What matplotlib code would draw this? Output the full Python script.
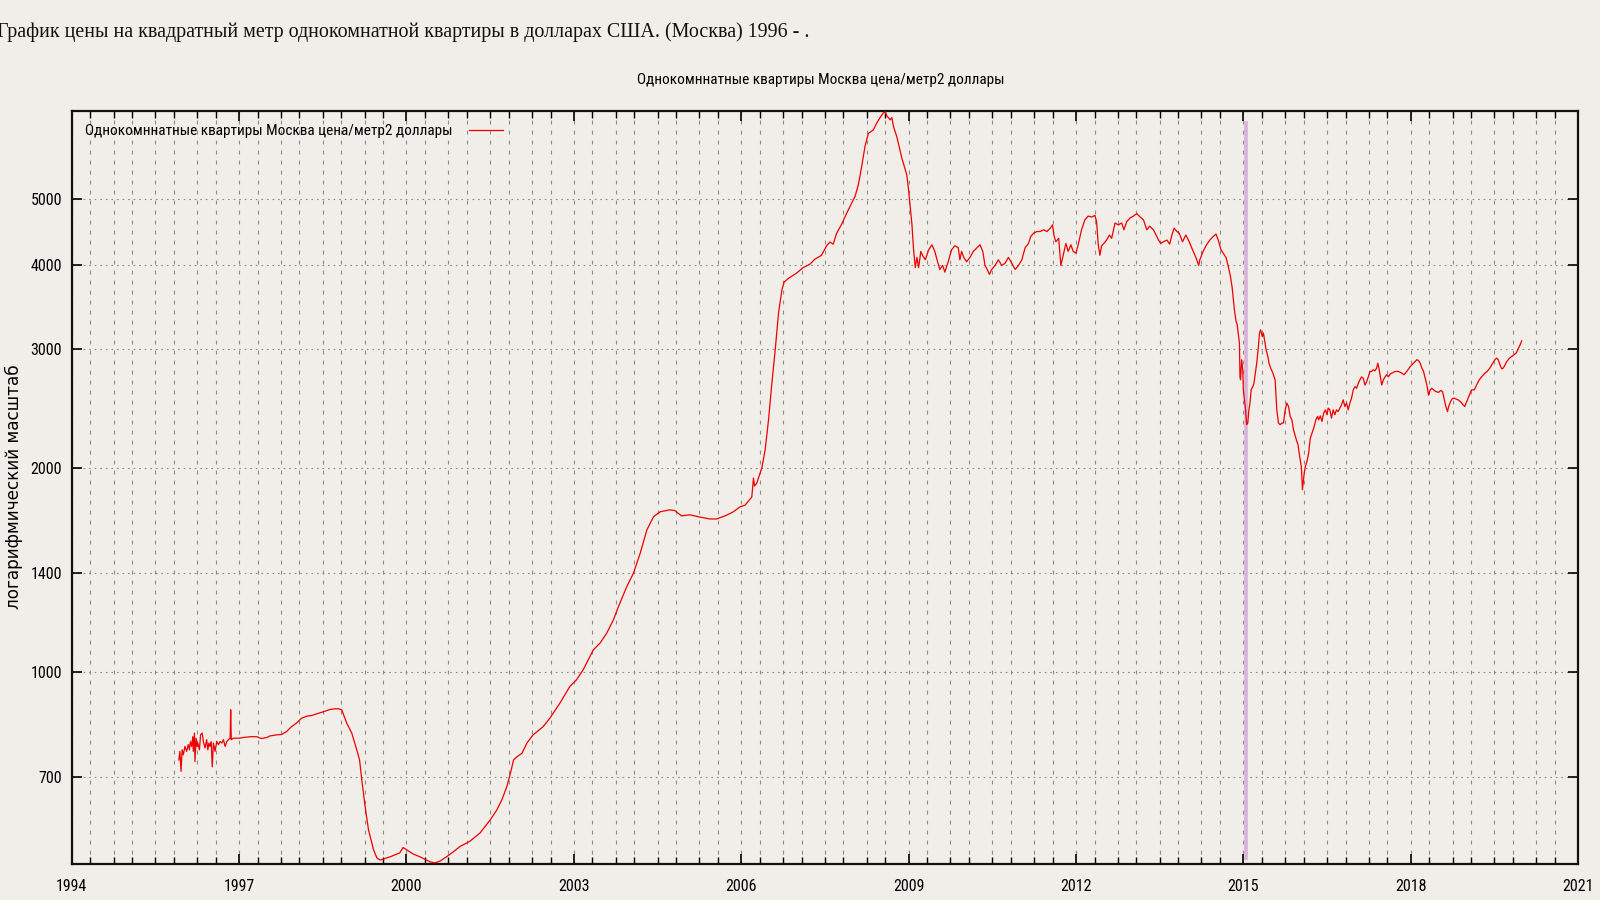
import numpy as np
import matplotlib.pyplot as plt
from matplotlib.ticker import FixedLocator, NullLocator

# price per m2 of a one-room flat in Moscow, USD
years_96_99 = [1995.92, 1995.94, 1995.96, 1995.98, 1996.00, 1996.03, 1996.06, 1996.09,
               1996.11, 1996.13, 1996.15, 1996.17, 1996.18, 1996.20, 1996.21, 1996.23,
               1996.25, 1996.26, 1996.29, 1996.31, 1996.34, 1996.36, 1996.39, 1996.42,
               1996.44, 1996.46, 1996.48, 1996.50, 1996.52, 1996.54, 1996.57, 1996.60,
               1996.63, 1996.66, 1996.69, 1996.72, 1996.75, 1996.78, 1996.81, 1996.84,
               1996.85, 1996.86, 1996.90, 1997.00, 1997.08, 1997.20, 1997.32, 1997.40,
               1997.50, 1997.55, 1997.67, 1997.76, 1997.85, 1997.94, 1998.03, 1998.12,
               1998.21, 1998.30, 1998.39, 1998.51, 1998.63, 1998.72, 1998.78, 1998.84,
               1998.93, 1999.02, 1999.11, 1999.16, 1999.20, 1999.26, 1999.32, 1999.41,
               1999.47, 1999.53]
price_96_99 = [741, 763, 713, 767, 754, 776, 763, 781,
               767, 789, 776, 802, 763, 812, 737, 798,
               776, 785, 767, 807, 812, 789, 772, 794,
               767, 785, 776, 789, 724, 785, 763, 789,
               781, 789, 785, 794, 776, 789, 794, 798,
               879, 794, 798, 798, 800, 802, 802, 797,
               800, 804, 807, 808, 816, 830, 840, 854,
               860, 862, 867, 873, 880, 882, 882, 879,
               840, 812, 767, 741, 692, 632, 584, 546,
               531, 527]

years_99_06 = [1999.71, 1999.88, 1999.94, 2000.00, 2000.12, 2000.24, 2000.42, 2000.51,
               2000.60, 2000.72, 2000.84, 2000.96, 2001.14, 2001.32, 2001.50, 2001.62,
               2001.71, 2001.80, 2001.86, 2001.92, 2001.98, 2002.07, 2002.16, 2002.27,
               2002.45, 2002.57, 2002.75, 2002.93, 2003.05, 2003.17, 2003.35, 2003.47,
               2003.59, 2003.71, 2003.80, 2003.95, 2004.07, 2004.19, 2004.31, 2004.43,
               2004.55, 2004.72, 2004.81, 2004.93, 2005.08, 2005.26, 2005.44, 2005.56,
               2005.74, 2005.86, 2005.98, 2006.07, 2006.19]
price_99_06 = [533, 540, 550, 546, 538, 533, 524, 522,
               525, 533, 542, 552, 562, 578, 604, 625,
               647, 677, 706, 741, 749, 758, 785, 807,
               830, 854, 899, 952, 974, 1008, 1078, 1103,
               1141, 1194, 1249, 1337, 1400, 1498, 1622, 1697,
               1725, 1736, 1732, 1701, 1707, 1694, 1683, 1683,
               1705, 1725, 1754, 1764, 1814]

years_06_09 = [2006.22, 2006.24, 2006.28, 2006.37, 2006.43, 2006.49, 2006.55, 2006.61,
               2006.67, 2006.73, 2006.77, 2006.85, 2006.99, 2007.11, 2007.23, 2007.32,
               2007.44, 2007.53, 2007.59, 2007.65, 2007.71, 2007.80, 2007.89, 2007.98,
               2008.04, 2008.10, 2008.16, 2008.22, 2008.28, 2008.37, 2008.43, 2008.49,
               2008.55, 2008.58, 2008.61, 2008.67, 2008.70, 2008.73, 2008.79, 2008.88,
               2008.97, 2009.00, 2009.03, 2009.06, 2009.09, 2009.12, 2009.15, 2009.18]
price_06_09 = [1934, 1883, 1902, 2003, 2130, 2359, 2672, 2996,
               3398, 3672, 3770, 3820, 3885, 3960, 4005, 4075,
               4130, 4265, 4320, 4290, 4450, 4590, 4765, 4930,
               5045, 5250, 5590, 5990, 6255, 6330, 6480, 6600,
               6710, 6730, 6640, 6550, 6600, 6400, 6180, 5750,
               5420, 5160, 4875, 4590, 4207, 3960, 4100, 3960]

years_09_14 = [2009.22, 2009.25, 2009.30, 2009.36, 2009.42, 2009.47, 2009.52, 2009.56,
               2009.61, 2009.65, 2009.71, 2009.77, 2009.83, 2009.89, 2009.92, 2009.95,
               2009.99, 2010.04, 2010.10, 2010.16, 2010.23, 2010.28, 2010.33, 2010.37,
               2010.41, 2010.45, 2010.49, 2010.55, 2010.61, 2010.67, 2010.73, 2010.79,
               2010.85, 2010.91, 2010.97, 2011.03, 2011.09, 2011.15, 2011.19, 2011.24,
               2011.30, 2011.36, 2011.42, 2011.48, 2011.54, 2011.58, 2011.61, 2011.64,
               2011.69, 2011.73, 2011.78, 2011.82, 2011.86, 2011.91, 2011.95, 2012.00,
               2012.04, 2012.10, 2012.16, 2012.22, 2012.28, 2012.34, 2012.37, 2012.40,
               2012.43, 2012.46, 2012.50, 2012.55, 2012.60, 2012.64, 2012.70, 2012.76,
               2012.82, 2012.86, 2012.91, 2012.97, 2013.03, 2013.09, 2013.15, 2013.21,
               2013.27, 2013.32, 2013.39, 2013.48, 2013.52, 2013.57, 2013.63, 2013.68,
               2013.72, 2013.76, 2013.81, 2013.85, 2013.91, 2013.97, 2014.03, 2014.09,
               2014.15, 2014.20, 2014.22, 2014.28, 2014.34, 2014.40, 2014.46, 2014.51,
               2014.55, 2014.60, 2014.64, 2014.69, 2014.73, 2014.77, 2014.80]
price_09_14 = [4185, 4130, 4067, 4207, 4280, 4185, 4040, 3935,
               3990, 3900, 4040, 4207, 4265, 4240, 4067, 4185,
               4100, 4040, 4100, 4185, 4240, 4280, 4185, 3990,
               3935, 3870, 3935, 3990, 4067, 3990, 4020, 4100,
               4020, 3935, 3990, 4067, 4240, 4300, 4402, 4453,
               4478, 4478, 4504, 4478, 4530, 4580, 4402, 4325,
               4375, 3990, 4160, 4300, 4185, 4280, 4185, 4160,
               4280, 4504, 4660, 4720, 4705, 4730, 4630, 4280,
               4130, 4265, 4300, 4350, 4425, 4375, 4610, 4580,
               4610, 4504, 4630, 4690, 4720, 4760, 4705, 4660,
               4504, 4560, 4504, 4350, 4300, 4325, 4350, 4290,
               4425, 4530, 4478, 4453, 4325, 4425, 4325, 4207,
               4100, 3990, 4067, 4185, 4280, 4350, 4402, 4440,
               4350, 4207, 4160, 4100, 3976, 3840, 3700]

years_14_17 = [2014.84, 2014.87, 2014.89, 2014.93, 2014.94, 2014.95, 2014.97, 2014.99,
               2015.00, 2015.02, 2015.04, 2015.06, 2015.08, 2015.10, 2015.12, 2015.14,
               2015.17, 2015.19, 2015.22, 2015.24, 2015.27, 2015.29, 2015.31, 2015.34,
               2015.36, 2015.38, 2015.41, 2015.44, 2015.46, 2015.49, 2015.53, 2015.57,
               2015.60, 2015.63, 2015.66, 2015.69, 2015.72, 2015.75, 2015.78, 2015.81,
               2015.84, 2015.87, 2015.90, 2015.95, 2015.98, 2016.01, 2016.04, 2016.06,
               2016.09, 2016.11, 2016.14, 2016.17, 2016.20, 2016.23, 2016.26, 2016.30,
               2016.33, 2016.35, 2016.38, 2016.41, 2016.44, 2016.47, 2016.50, 2016.52,
               2016.55, 2016.58, 2016.61, 2016.64, 2016.67, 2016.70, 2016.73, 2016.76,
               2016.79, 2016.82, 2016.85, 2016.88, 2016.91, 2016.94, 2016.97]
price_14_17 = [3431, 3298, 3261, 3061, 2730, 2703, 2894, 2797,
               2612, 2525, 2440, 2320, 2333, 2440, 2497, 2612,
               2641, 2670, 2781, 2860, 3026, 3170, 3205, 3130,
               3170, 3097, 2990, 2926, 2860, 2814, 2765, 2703,
               2440, 2333, 2320, 2333, 2333, 2440, 2497, 2468,
               2386, 2359, 2280, 2204, 2167, 2082, 2010, 1859,
               1965, 2010, 2047, 2104, 2216, 2253, 2291, 2359,
               2386, 2359, 2391, 2346, 2414, 2440, 2400, 2455,
               2440, 2373, 2440, 2400, 2440, 2426, 2455, 2482,
               2525, 2468, 2497, 2440, 2497, 2540, 2612]

years_17_20 = [2017.00, 2017.03, 2017.06, 2017.09, 2017.12, 2017.15, 2017.18, 2017.21,
               2017.24, 2017.27, 2017.30, 2017.33, 2017.36, 2017.39, 2017.41, 2017.43,
               2017.45, 2017.48, 2017.51, 2017.54, 2017.57, 2017.60, 2017.63, 2017.66,
               2017.72, 2017.78, 2017.84, 2017.88, 2017.93, 2017.99, 2018.05, 2018.11,
               2018.14, 2018.17, 2018.20, 2018.23, 2018.26, 2018.29, 2018.32, 2018.35,
               2018.38, 2018.41, 2018.45, 2018.50, 2018.54, 2018.57, 2018.60, 2018.63,
               2018.66, 2018.68, 2018.71, 2018.74, 2018.78, 2018.81, 2018.86, 2018.90,
               2018.94, 2018.97, 2019.00, 2019.05, 2019.09, 2019.14, 2019.18, 2019.23,
               2019.27, 2019.33, 2019.37, 2019.42, 2019.47, 2019.51, 2019.54, 2019.57,
               2019.60, 2019.63, 2019.66, 2019.69, 2019.72, 2019.77, 2019.81, 2019.85,
               2019.89, 2019.93, 2019.96, 2019.99]
price_17_20 = [2641, 2626, 2670, 2703, 2730, 2717, 2655, 2685,
               2730, 2781, 2781, 2797, 2787, 2814, 2860, 2814,
               2750, 2655, 2703, 2730, 2750, 2730, 2755, 2765,
               2781, 2781, 2765, 2750, 2781, 2827, 2860, 2894,
               2887, 2860, 2814, 2781, 2717, 2655, 2565, 2612,
               2626, 2612, 2597, 2590, 2607, 2597, 2532, 2468,
               2426, 2468, 2505, 2532, 2540, 2532, 2522, 2505,
               2482, 2468, 2505, 2565, 2612, 2612, 2655, 2703,
               2730, 2765, 2781, 2814, 2860, 2894, 2910, 2894,
               2843, 2806, 2814, 2843, 2875, 2910, 2926, 2943,
               2960, 3008, 3044, 3086]

years = years_96_99 + years_99_06 + years_06_09 + years_09_14 + years_14_17 + years_17_20
prices = price_96_99 + price_99_06 + price_06_09 + price_09_14 + price_14_17 + price_17_20

year_ticks = [1994, 1997, 2000, 2003, 2006, 2009, 2012, 2015, 2018, 2021]
price_ticks = [700, 1000, 1400, 2000, 3000, 4000, 5000]
event_year = 2015.04

title = 'График цены на квадратный метр однокомнатной квартиры в долларах США. (Москва) 1996 - .'
series_name = 'Однокомннатные квартиры Москва цена/метр2 доллары'
ylabel = 'логарифмический масштаб'

plt.rcParams['font.family'] = ['Roboto Condensed', 'DejaVu Sans']
bg = '#f1ede8'

fig = plt.figure(figsize=(16, 9), dpi=100, facecolor=bg)
ax = fig.add_axes([0.0448, 0.04, 0.9415, 0.8367], facecolor=bg)

ax.set_yscale('log')
ax.plot(years, prices, color='#ee0000', lw=0.9, label=series_name, zorder=3)
ax.axvline(event_year, ymin=0.008, ymax=0.984, color='#d8b2d8', lw=2.6, zorder=2)

ax.set_xlim(1994, 2021)
ax.set_ylim(520, 6750)

ax.set_xticks(year_ticks)
ax.set_xticklabels([str(y) for y in year_ticks])
minor = [y + m / 12 for y in year_ticks[:-1] for m in (4, 9, 13, 18, 22, 27, 31)]
ax.xaxis.set_minor_locator(FixedLocator(minor))
ax.set_yticks(price_ticks)
ax.set_yticklabels([str(p) for p in price_ticks])
ax.yaxis.set_minor_locator(NullLocator())

ax.tick_params(which='both', direction='in', top=True, right=True,
               color='black', labelsize=11.5, labelcolor='black')
ax.tick_params(which='major', length=7, width=1.2)
ax.tick_params(which='minor', length=5, width=1.0)
ax.tick_params(axis='x', pad=11)
ax.tick_params(axis='y', pad=7)

ax.xaxis.grid(True, which='both', color='#8c8c8c', lw=0.8, linestyle=(0, (3.5, 5.5)))
ax.yaxis.grid(True, which='major', color='#8c8c8c', lw=0.8, linestyle=(0, (1.5, 3.5)))
ax.set_axisbelow(True)
for s in ax.spines.values():
    s.set_linewidth(1.6)
    s.set_color('#111111')

leg = ax.legend(loc='upper left', frameon=False, markerfirst=False, handlelength=2.2,
                fontsize=11, borderaxespad=0.2, borderpad=0.65, handletextpad=1.1)

fig.text(-0.002, 0.964, title, family='Liberation Serif', fontsize=14.4,
         ha='left', va='center', color='#111111')
fig.text(0.513, 0.911, series_name, fontsize=11, ha='center', va='center')
fig.text(0.0085, 0.459, ylabel, family='DejaVu Sans', fontsize=12.2, rotation=90,
         ha='center', va='center')

fig.savefig('out.png', dpi=100, facecolor=bg)
